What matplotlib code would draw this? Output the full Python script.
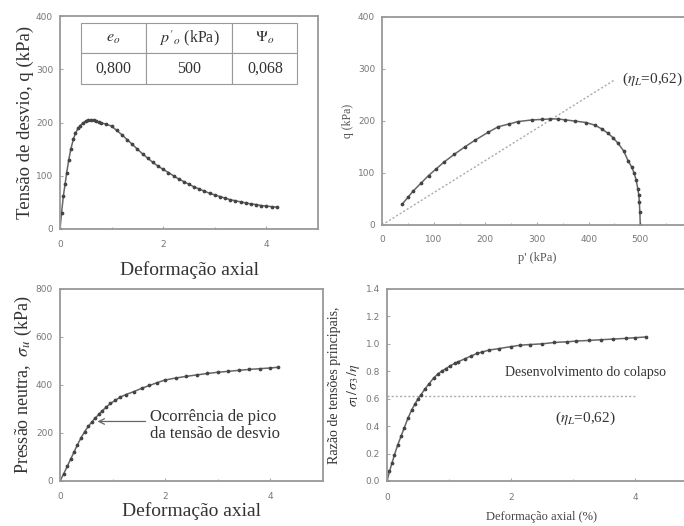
import matplotlib
matplotlib.use("Agg")
import matplotlib.pyplot as plt
from matplotlib.ticker import MultipleLocator, FormatStrFormatter

# --- data ---
strain_q = [0, 0.03, 0.065, 0.1, 0.13, 0.17, 0.21, 0.26, 0.3, 0.35, 0.39, 0.44, 0.5, 0.55, 0.6,
            0.65, 0.7, 0.75, 0.8, 0.9, 1.0, 1.1, 1.2, 1.3, 1.4, 1.5, 1.6, 1.7, 1.8, 1.9, 2.0, 2.1,
            2.2, 2.3, 2.4, 2.5, 2.6, 2.7, 2.8, 2.9, 3.0, 3.1, 3.2, 3.3, 3.4, 3.5, 3.6, 3.7, 3.8,
            3.9, 4.0, 4.1, 4.2]
q_dev = [0, 30, 62, 85, 106, 130, 150, 169, 180, 189, 194, 199, 203, 204, 205, 204, 203, 201,
         199, 197, 193, 185, 177, 168, 159, 150, 141, 133, 125, 118, 112, 106, 100, 94, 89, 84,
         79, 75, 71, 67, 64, 61, 58, 55, 53, 51, 49, 47, 46, 44, 43, 42, 41]

p_path = [500, 499, 498, 497, 495, 492, 488, 483, 476, 468, 457, 447, 438, 425, 412, 395, 373,
          355, 341, 325, 309, 290, 264, 245, 225, 205, 180, 160, 140, 120, 105, 90, 75, 60, 50, 39]
q_path = [0, 25, 45, 58, 70, 86, 100, 112, 124, 142, 157, 168, 176, 185, 192, 197, 200, 202,
          204, 204, 203, 202, 199, 194, 189, 178, 163, 150, 136, 121, 108, 95, 80, 65, 53, 40]

strain_u = [0, 0.07, 0.14, 0.2, 0.27, 0.33, 0.4, 0.47, 0.54, 0.6, 0.67, 0.74, 0.8, 0.88, 0.96,
            1.05, 1.15, 1.25, 1.4, 1.55, 1.7, 1.85, 2.0, 2.2, 2.4, 2.6, 2.8, 3.0, 3.2, 3.4, 3.6,
            3.8, 4.0, 4.15]
u_pore = [0, 30, 62, 90, 122, 150, 180, 206, 228, 245, 262, 278, 292, 308, 323, 336, 350, 360,
          372, 386, 398, 410, 421, 429, 436, 442, 448, 453, 457, 461, 465, 468, 471, 474]

strain_r = [0, 0.04, 0.08, 0.12, 0.17, 0.23, 0.28, 0.34, 0.4, 0.45, 0.5, 0.55, 0.61, 0.68, 0.75,
            0.82, 0.88, 0.95, 1.02, 1.1, 1.15, 1.25, 1.35, 1.45, 1.53, 1.65, 1.8, 2.0, 2.15, 2.3,
            2.5, 2.7, 2.9, 3.05, 3.25, 3.45, 3.65, 3.85, 4.0, 4.17]
ratio = [0, 0.07, 0.13, 0.19, 0.26, 0.33, 0.39, 0.46, 0.52, 0.56, 0.60, 0.63, 0.67, 0.71, 0.75,
         0.78, 0.80, 0.82, 0.84, 0.86, 0.87, 0.89, 0.91, 0.93, 0.94, 0.955, 0.965, 0.98, 0.99,
         0.995, 1.0, 1.01, 1.015, 1.02, 1.025, 1.03, 1.035, 1.04, 1.045, 1.05]

eta_L = 0.62
table_header = [r"$e_o$", r"$p'_o$ (kPa)", r"$\Psi_o$"]
table_values = ["0,800", "500", "0,068"]

SERIF = "Liberation Serif"
LINE = "#666666"
MARK = "#444444"
TXT = "#333333"

plt.rcParams["mathtext.fontset"] = "stix"
fig = plt.figure(figsize=(6.84, 5.26), dpi=100)


def style(ax, size=6.5, xpad=8, ypad=5):
    for s in ax.spines.values():
        s.set_color("#999999")
        s.set_linewidth(1.3)
    ax.tick_params(which="both", direction="in", colors="#aaaaaa", labelcolor="#777777",
                   labelsize=size, length=2, width=0.8)
    ax.tick_params(axis="x", which="both", pad=xpad)
    ax.tick_params(axis="y", which="both", pad=ypad)
    ax.tick_params(which="minor", length=1.5)


def curve(ax, x, y):
    ax.plot(x, y, color=LINE, lw=1.1, marker="o", ms=1.7, mfc=MARK, mec=MARK)


# Top-left
ax1 = fig.add_axes([60/684, 1-229/526, 258/684, 213/526])
curve(ax1, strain_q, q_dev)
ax1.set_xlim(0, 5)
ax1.set_ylim(0, 400)
ax1.xaxis.set_major_locator(MultipleLocator(2))
ax1.xaxis.set_minor_locator(MultipleLocator(1))
ax1.yaxis.set_major_locator(MultipleLocator(100))
style(ax1)
ax1.set_ylabel("Tensão de desvio, q (kPa)", family=SERIF, fontsize=13.5, color=TXT, labelpad=1)
ax1.set_xlabel("Deformação axial", family=SERIF, fontsize=14, color=TXT, labelpad=9)
tbl = ax1.table(cellText=[table_values], colLabels=table_header, cellLoc="center",
                bbox=[0.08, 0.682, 0.84, 0.285], colWidths=[0.3, 0.4, 0.3])
tbl.auto_set_font_size(False)
for (r, c), cell in tbl.get_celld().items():
    cell.set_edgecolor("#999999")
    cell.set_linewidth(0.8)
    cell.get_text().set_fontsize(11.5)
    cell.get_text().set_fontfamily(SERIF)
    cell.get_text().set_color(TXT)

# Top-right
ax2 = fig.add_axes([382/684, 1-225/526, 310/684, 208/526])
ax2.plot([0, 450], [0, 450*eta_L], color="#aaaaaa", lw=1.0, ls=(0, (1.5, 1.5)))
curve(ax2, p_path, q_path)
ax2.set_xlim(0, 600)
ax2.set_ylim(0, 400)
ax2.set_xticks([0, 100, 200, 300, 400, 500])
ax2.xaxis.set_minor_locator(MultipleLocator(50))
ax2.yaxis.set_major_locator(MultipleLocator(100))
style(ax2, size=6.5, xpad=7)
ax2.text(465, 280, r"($\eta_L$=0,62)", family=SERIF, fontsize=11, color=TXT, va="center")
ax2.set_ylabel("q (kPa)", family=SERIF, fontsize=8.5, color="#555555", labelpad=3)
ax2.set_xlabel("p' (kPa)", family=SERIF, fontsize=9, color="#555555", labelpad=6)

# Bottom-left
ax3 = fig.add_axes([60/684, 1-481/526, 263/684, 192/526])
curve(ax3, strain_u, u_pore)
ax3.set_xlim(0, 5)
ax3.set_ylim(0, 800)
ax3.xaxis.set_major_locator(MultipleLocator(2))
ax3.xaxis.set_minor_locator(MultipleLocator(1))
ax3.yaxis.set_major_locator(MultipleLocator(200))
style(ax3)
ax3.set_ylabel(r"Pressão neutra,  $\sigma_u$ (kPa)", family=SERIF, fontsize=13, color=TXT,
               labelpad=1)
ax3.set_xlabel("Deformação axial", family=SERIF, fontsize=14, color=TXT, labelpad=1)
ax3.annotate("", xy=(0.66, 248), xytext=(1.68, 248),
             arrowprops=dict(arrowstyle="->", color="#666666", lw=0.9))
ax3.text(1.72, 232, "Ocorrência de pico\nda tensão de desvio", family=SERIF, fontsize=12,
         color=TXT, va="center", ha="left", linespacing=1.05)

# Bottom-right
ax4 = fig.add_axes([387/684, 1-481/526, 310/684, 192/526])
ax4.plot([0, 4.0], [eta_L, eta_L], color="#aaaaaa", lw=1.0, ls=(0, (1.5, 1.5)))
curve(ax4, strain_r, ratio)
ax4.set_xlim(0, 5)
ax4.set_ylim(0, 1.4)
ax4.xaxis.set_major_locator(MultipleLocator(2))
ax4.xaxis.set_minor_locator(MultipleLocator(1))
ax4.yaxis.set_major_locator(MultipleLocator(0.2))
ax4.yaxis.set_major_formatter(FormatStrFormatter("%.1f"))
style(ax4, size=6.5, xpad=9)
ax4.text(3.2, 0.79, "Desenvolvimento do colapso", family=SERIF, fontsize=10, color=TXT,
         ha="center", va="center")
ax4.text(3.2, 0.46, r"($\eta_L$=0,62)", family=SERIF, fontsize=11, color=TXT,
         ha="center", va="center")
ax4.set_ylabel("Razão de tensões principais,\n" + r"$\sigma_1/\,\sigma_3\,/\eta$", family=SERIF,
               fontsize=10, color=TXT, labelpad=3, linespacing=1.3)
ax4.set_xlabel("Deformação axial (%)", family=SERIF, fontsize=9, color="#444444", labelpad=6)

fig.savefig("out.png", dpi=100)
